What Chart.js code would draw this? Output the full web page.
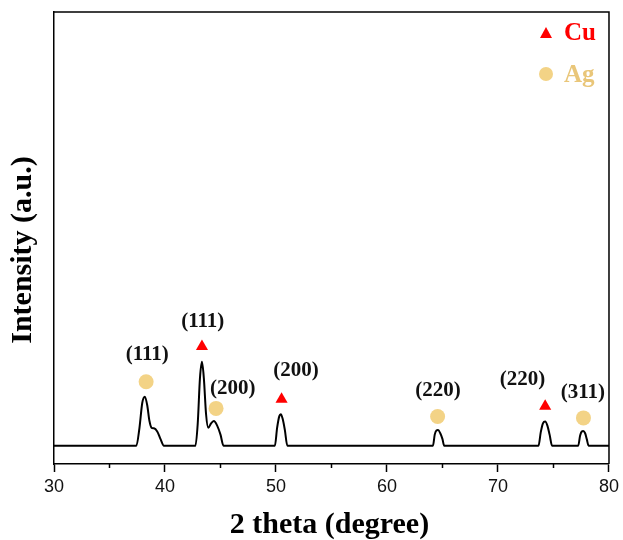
<!DOCTYPE html>
<html>
<head>
<meta charset="utf-8">
<script src="https://cdn.jsdelivr.net/npm/chart.js@4.4.1/dist/chart.umd.min.js"></script>
<style>
  html, body { margin: 0; padding: 0; background: #ffffff; }
  #wrap { width: 623px; height: 540px; }
</style>
</head>
<body>
<div id="wrap"><canvas id="xrd" width="623" height="540"></canvas></div>
<script>
// XRD pattern
const theta = [30, 37.42, 37.7, 37.95, 38.18, 38.4, 38.6, 38.8, 39.0, 39.3, 39.6, 39.9,
  42.74, 42.95, 43.15, 43.33, 43.5, 43.7, 43.9, 44.15, 44.4, 44.7, 45.0, 45.27,
  49.9, 50.1, 50.3, 50.43, 50.6, 50.8, 51.02,
  64.14, 64.3, 64.45, 64.6, 64.8, 65.0, 65.15,
  73.65, 73.85, 74.05, 74.25, 74.45, 74.65, 74.87,
  77.23, 77.4, 77.55, 77.68, 77.85, 78.0, 78.16, 80];
const intensity = [4.05, 4.05, 8, 13.5, 14.9, 13, 9.5, 8.0, 7.9, 7.2, 5.5, 4.05,
  4.05, 9, 19, 22.6, 19, 11, 8.0, 9.0, 9.5, 8.5, 6.5, 4.05,
  4.05, 8, 10.6, 11, 10, 7.5, 4.05,
  4.05, 6.5, 7.4, 7.5, 6.8, 5.5, 4.05,
  4.05, 7, 9, 9.4, 8.5, 6.5, 4.05,
  4.05, 6.3, 7.2, 7.3, 6.8, 5.5, 4.05, 4.05];

// phase markers
const cuTheta = [43.33, 50.5, 74.25];
const cuMark = [26.0, 14.3, 12.8];
const agTheta = [38.3, 44.6, 64.56, 77.7];
const agMark = [18.2, 12.3, 10.5, 10.2];

// hkl labels
const hklText = ["(111)", "(111)", "(200)", "(200)", "(220)", "(220)", "(311)"];
const hklTheta = [38.4, 43.4, 46.1, 51.8, 64.6, 72.2, 77.65];
const hklY = [24.1, 31.6, 16.6, 20.6, 16.2, 18.6, 15.8];

const xTicks = [30, 40, 50, 60, 70, 80];
const minorTicks = [35, 45, 55, 65, 75];

const cuColor = "#ff0000";
const agColor = "#f3d386";
const serif = "'Liberation Serif', 'Times New Roman', serif";

const pattern = theta.map((t, i) => ({ x: t, y: intensity[i] }));
const cuPts = cuTheta.map((t, i) => ({ x: t, y: cuMark[i] }));
const agPts = agTheta.map((t, i) => ({ x: t, y: agMark[i] }));

// frame, minor ticks, labels, legend, axis titles
const extras = {
  id: "extras",
  afterDraw(chart) {
    const ctx = chart.ctx;
    const a = chart.chartArea;
    const xs = chart.scales.x;
    const ys = chart.scales.y;
    ctx.save();
    ctx.strokeStyle = "#000";
    ctx.lineWidth = 1.5;
    ctx.beginPath();
    ctx.moveTo(a.left, a.top);
    ctx.lineTo(a.right, a.top);
    ctx.lineTo(a.right, a.bottom);
    ctx.stroke();

    minorTicks.forEach((v) => {
      const px = Math.round(xs.getPixelForValue(v)) + 0.5;
      ctx.beginPath();
      ctx.moveTo(px, a.bottom);
      ctx.lineTo(px, a.bottom + 4);
      ctx.stroke();
    });

    ctx.fillStyle = "#111";
    ctx.font = "bold 21px " + serif;
    ctx.textAlign = "center";
    ctx.textBaseline = "middle";
    hklText.forEach((t, i) => {
      ctx.fillText(t, xs.getPixelForValue(hklTheta[i]), ys.getPixelForValue(hklY[i]));
    });

    // legend
    ctx.fillStyle = cuColor;
    ctx.beginPath();
    ctx.moveTo(546, 27);
    ctx.lineTo(552, 38);
    ctx.lineTo(540, 38);
    ctx.closePath();
    ctx.fill();
    ctx.fillStyle = agColor;
    ctx.beginPath();
    ctx.arc(546, 74, 7, 0, Math.PI * 2);
    ctx.fill();
    ctx.font = "bold 25px " + serif;
    ctx.textAlign = "left";
    ctx.fillStyle = cuColor;
    ctx.fillText("Cu", 564, 34);
    ctx.fillStyle = "#e9c679";
    ctx.fillText("Ag", 564, 76);

    // axis titles
    ctx.fillStyle = "#000";
    ctx.font = "bold 30px " + serif;
    ctx.textAlign = "center";
    ctx.fillText("2 theta (degree)", (a.left + a.right) / 2 - 2, 525);
    ctx.translate(23, 250);
    ctx.rotate(-Math.PI / 2);
    ctx.fillText("Intensity (a.u.)", 0, 0);
    ctx.restore();
  }
};

new Chart(document.getElementById("xrd"), {
  type: "scatter",
  data: {
    datasets: [
      {
        label: "pattern",
        data: pattern,
        showLine: true,
        borderColor: "#000",
        borderWidth: 2,
        pointRadius: 0,
        cubicInterpolationMode: "monotone",
      },
      {
        label: "Cu",
        data: cuPts,
        pointStyle: "triangle",
        pointRadius: 7,
        backgroundColor: cuColor,
        borderColor: cuColor,
        borderWidth: 0,
      },
      {
        label: "Ag",
        data: agPts,
        pointStyle: "circle",
        pointRadius: 7.5,
        backgroundColor: agColor,
        borderColor: agColor,
        borderWidth: 0,
      },
    ],
  },
  options: {
    responsive: false,
    animation: false,
    layout: { padding: { top: 12, right: 10, left: 0, bottom: 0 } },
    plugins: {
      legend: { display: false },
      tooltip: { enabled: false },
    },
    scales: {
      x: {
        type: "linear",
        min: 30,
        max: 80,
        afterBuildTicks: (s) => { s.ticks = xTicks.map((v) => ({ value: v })); },
        afterFit: (s) => { s.height = 76; },
        grid: { drawOnChartArea: false, drawTicks: true, tickLength: 8, color: "#000", tickWidth: 1.5 },
        border: { display: true, color: "#000", width: 1.5 },
        ticks: {
          padding: 4,
          color: "#111",
          font: { family: "'Liberation Sans', Arial, sans-serif", size: 18 },
        },
      },
      y: {
        min: 0,
        max: 100,
        afterFit: (s) => { s.width = 54; },
        grid: { display: false },
        border: { display: true, color: "#000", width: 1.5 },
        ticks: { display: false },
      },
    },
  },
  plugins: [extras],
});
</script>
</body>
</html>
